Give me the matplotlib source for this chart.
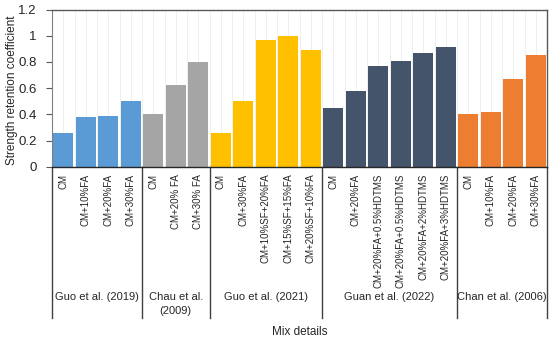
import matplotlib.pyplot as plt

# data
groups = ['Guo et al. (2019)', 'Chau et al.\n(2009)', 'Guo et al. (2021)',
          'Guan et al. (2022)', 'Chan et al. (2006)']
mixes = [
    ['CM', 'CM+10%FA', 'CM+20%FA', 'CM+30%FA'],
    ['CM', 'CM+20% FA', 'CM+30% FA'],
    ['CM', 'CM+30%FA', 'CM+10%SF+20%FA', 'CM+15%SF+15%FA', 'CM+20%SF+10%FA'],
    ['CM', 'CM+20%FA', 'CM+20%FA+0.5%HDTMS', 'CM+20%FA+0.5%HDTMS',
     'CM+20%FA+2%HDTMS', 'CM+20%FA+3%HDTMS'],
    ['CM', 'CM+10%FA', 'CM+20%FA', 'CM+30%FA'],
]
values = [
    [0.26, 0.38, 0.39, 0.50],
    [0.40, 0.62, 0.80],
    [0.26, 0.50, 0.97, 1.00, 0.89],
    [0.45, 0.58, 0.77, 0.81, 0.87, 0.91],
    [0.40, 0.42, 0.67, 0.85],
]
colors = ['#5B9BD5', '#A5A5A5', '#FFC000', '#44546A', '#ED7D31']

plt.rcParams['font.family'] = ['Liberation Sans', 'DejaVu Sans']

fig = plt.figure(figsize=(5.5, 3.42), dpi=100)
ax = fig.add_axes([52 / 550, 1 - 166.7 / 342, 495 / 550, 157.2 / 342])

x = 0
labels = []
bounds = [-0.5]
for g, (names, vals, c) in enumerate(zip(mixes, values, colors)):
    xs = list(range(x, x + len(vals)))
    ax.bar(xs, vals, width=0.9, color=c, zorder=2)
    labels += names
    x += len(vals)
    bounds.append(x - 0.5)

n = len(labels)
ax.set_xlim(-0.5, n - 0.5)
ax.set_ylim(0, 1.2)

# faint vertical grid
for gx in [i * 0.5 - 0.5 for i in range(1, 2 * n)]:
    ax.axvline(gx, color='#ededed', lw=0.6, zorder=0)

ax.set_xticks(range(n))
ax.set_xticklabels(labels, rotation=90, fontsize=7, color='#262626', va='top')
ax.tick_params(axis='x', length=0, pad=5)

ax.set_yticks([0, 0.2, 0.4, 0.6, 0.8, 1.0, 1.2])
ax.set_yticklabels(['0', '0.2', '0.4', '0.6', '0.8', '1', '1.2'], fontsize=9.5, color='#262626')
ax.tick_params(axis='y', length=4, width=0.8, color='#595959', pad=7)

for s in ['top', 'right']:
    ax.spines[s].set_color('#595959')
    ax.spines[s].set_linewidth(1.0)
ax.spines['left'].set_color('#808080')
ax.spines['bottom'].set_color('#262626')
ax.spines['bottom'].set_linewidth(1.0)

# group separators and group labels
trans = ax.get_xaxis_transform()
for b in bounds:
    ax.plot([b, b], [0, -0.963], transform=trans, color='#404040', lw=1.0, clip_on=False)
for i, gname in enumerate(groups):
    cx = (bounds[i] + bounds[i + 1]) / 2
    ax.text(cx, -0.80, gname, transform=trans, ha='center', va='top',
            fontsize=8, color='#262626', linespacing=1.5)

fig.text(12 / 550, 1 - 90 / 342, 'Strength retention coefficient', rotation=90,
         ha='center', va='center', fontsize=8.5, color='#262626')
fig.text(299.5 / 550, 1 - 332 / 342, 'Mix details', ha='center', va='center',
         fontsize=8.5, color='#262626')

fig.savefig('out.png', dpi=100)
